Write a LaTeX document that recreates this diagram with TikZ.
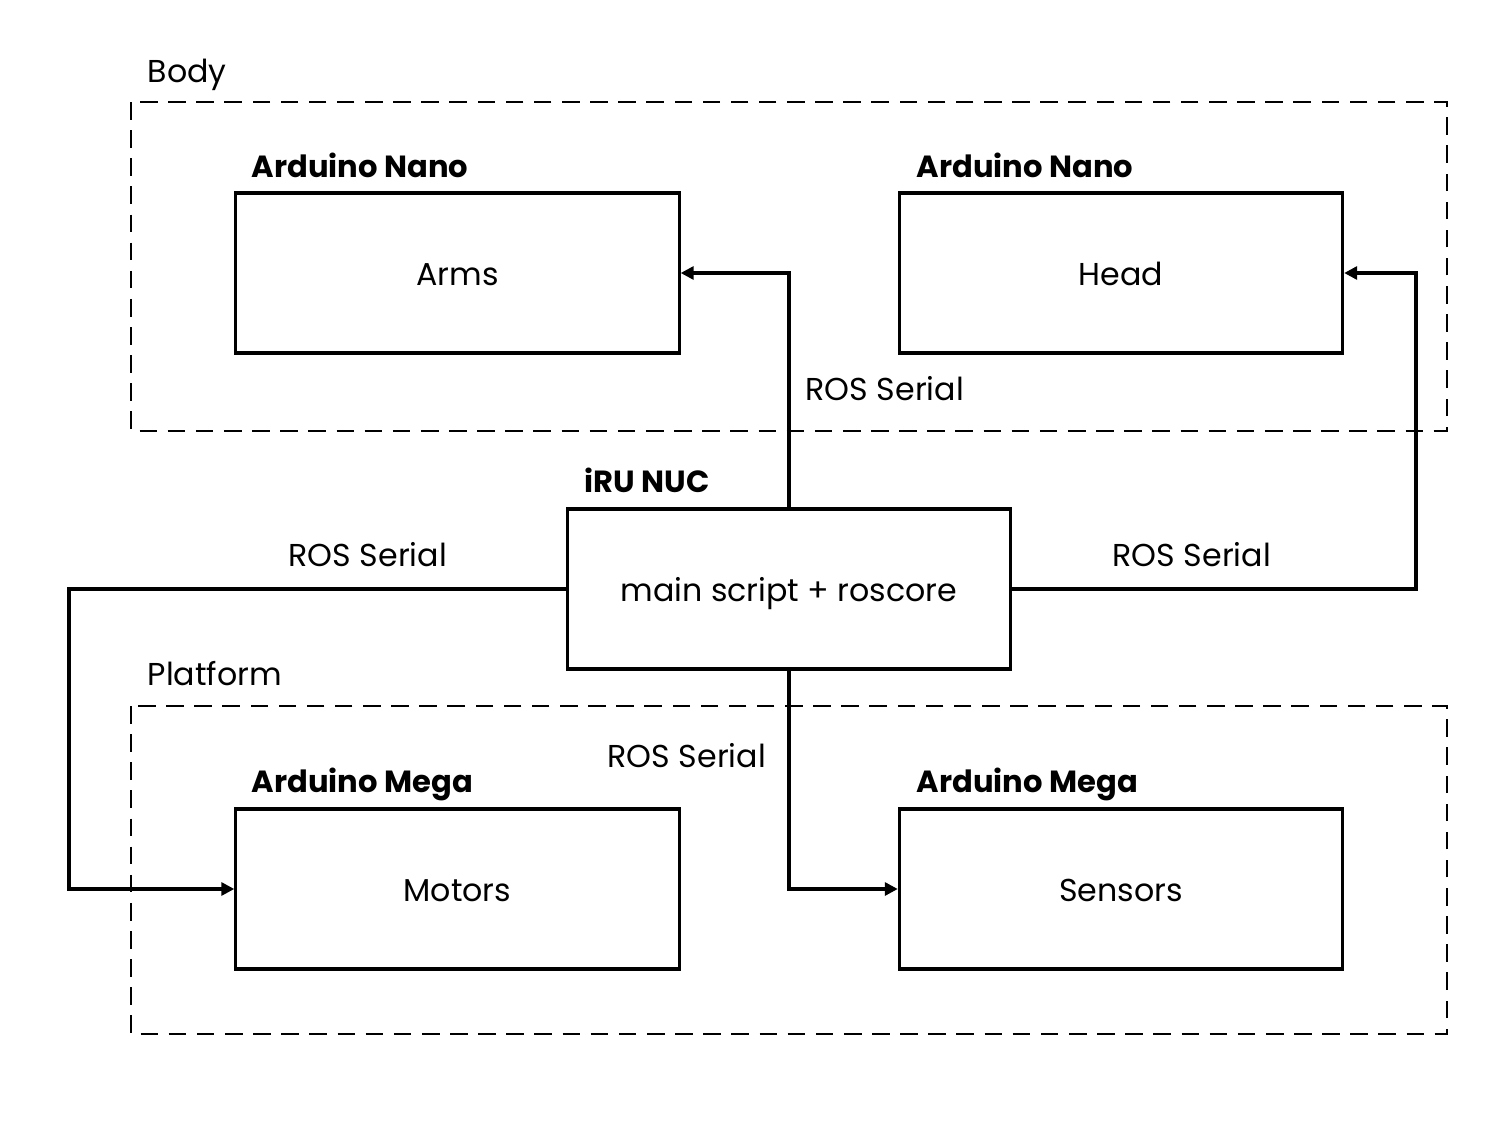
\documentclass[tikz,border=0pt]{standalone}
\usepackage{fontspec}
\setmainfont{Poppins}
\usetikzlibrary{arrows.meta,positioning}

\begin{document}
\begin{tikzpicture}
  [x=0.01cm,y=-0.01cm,line join=miter,
  % Styles
  group/.style={line width=0.6pt,dash pattern=on 5pt off 3pt},
  unit/.style={draw,line width=0.9pt,minimum width=4.43cm,minimum height=1.6cm,
    inner sep=0pt,text height=1.5ex,text depth=0.2ex,font=\fontsize{9}{11}\selectfont},
  title/.style={anchor=base west,inner sep=0pt,font=\bfseries\fontsize{8.7}{11}\selectfont},
  serial/.style={anchor=base west,inner sep=0pt,font=\fontsize{9}{11}\selectfont},
  link/.style={line width=0.9pt,-{Triangle[length=1.3mm,width=1.3mm]}}]
  \useasboundingbox (0,0) rectangle (1502,1127);
  % Groups
  \draw[group] (131,102) rectangle (1447,431);
  \draw[group] (131,706) rectangle (1447,1034);
  \node[serial] (body) at (147,82) {Body};
  \node[serial] (platform) at (147,685) {Platform};
  % Units
  \node[unit] (arms) at (457.5,273) {Arms};
  \node[unit] (head) at (1121,273) {Head};
  \node[unit] (nuc) at (789,589) {main script + roscore};
  \node[unit] (motors) at (457.5,889) {Motors};
  \node[unit] (sensors) at (1121,889) {Sensors};
  % Titles
  \node[title] (armstitle) at (251,177) {Arduino Nano};
  \node[title] (headtitle) at (916,177) {Arduino Nano};
  \node[title] (nuctitle) at (584,492) {iRU NUC};
  \node[title] (motorstitle) at (251,792) {Arduino Mega};
  \node[title] (sensorstitle) at (916,792) {Arduino Mega};
  % Links
  \coordinate (rturn) at (1416,273);
  \coordinate (lturn) at (69,889);
  \draw[link] (nuc.north) |- (arms.east);
  \draw[link] (nuc.east) -| (rturn) -- (head.east);
  \draw[link] (nuc.west) -| (lturn) -- (motors.west);
  \draw[link] (nuc.south) |- (sensors.west);
  \node[serial] (armsserial) at (805,400) {ROS Serial};
  \node[serial] (headserial) at (1112,566) {ROS Serial};
  \node[serial] (motorsserial) at (288,566) {ROS Serial};
  \node[serial] (sensorsserial) at (607,767) {ROS Serial};
\end{tikzpicture}
\end{document}
